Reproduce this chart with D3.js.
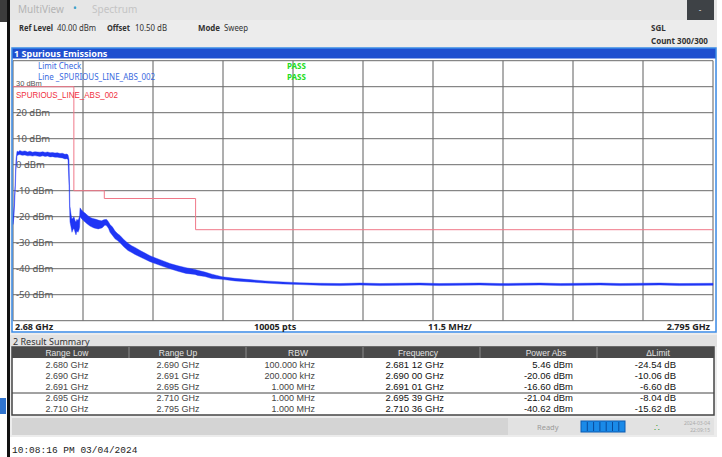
<!DOCTYPE html>
<html><head><meta charset="utf-8">
<script src="https://cdn.jsdelivr.net/npm/d3@7"></script>
<style>body{margin:0;background:#fff;}svg{display:block;font-family:"Noto Sans",sans-serif;}</style>
</head><body><svg id="c" width="722" height="457"></svg>
<script>
// ---- data ----
const traceFreq = [2.68000,2.68016,2.68033,2.68049,2.68066,2.68090,2.68112,2.68150,2.68197,2.68240,2.68279,2.68320,2.68361,2.68400,2.68444,2.68490,2.68526,2.68570,2.68608,2.68650,2.68690,2.68730,2.68772,2.68810,2.68854,2.68880,2.68904,2.68920,2.68936,2.68953,2.68969,2.68985,2.69002,2.69020,2.69035,2.69050,2.69068,2.69085,2.69095,2.69101,2.69120,2.69134,2.69160,2.69183,2.69210,2.69232,2.69265,2.69298,2.69330,2.69364,2.69400,2.69429,2.69460,2.69479,2.69511,2.69539,2.69570,2.69594,2.69635,2.69676,2.69717,2.69758,2.69820,2.69889,2.69950,2.70004,2.70090,2.70169,2.70251,2.70333,2.70448,2.70579,2.70711,2.70842,2.70990,2.71036,2.71154,2.71269,2.71434,2.71647,2.71894,2.72140,2.72436,2.72715,2.73050,2.73372,2.73700,2.74029,2.74350,2.74686,2.75000,2.75343,2.75670,2.76000,2.76330,2.76657,2.77000,2.77315,2.77650,2.77972,2.78300,2.78629,2.78950,2.79500];
const traceHigh = [-21.0,-16.0,-8.0,2.0,5.2,5.0,5.46,5.1,5.3,4.9,5.2,4.8,5.0,4.9,4.8,5.0,4.7,4.9,4.6,4.7,4.5,4.6,4.3,4.4,4.0,4.1,3.8,2.0,-16.0,-19.0,-21.0,-20.5,-20.06,-21.5,-22.0,-21.0,-21.5,-20.5,-19.5,-16.60,-17.2,-17.6,-18.2,-18.6,-19.2,-19.6,-20.2,-20.6,-20.8,-21.0,-21.3,-21.5,-21.6,-21.3,-21.1,-21.04,-22.0,-23.0,-24.0,-25.5,-26.5,-27.2,-28.8,-30.2,-31.2,-31.8,-33.0,-34.0,-35.0,-35.8,-36.8,-38.0,-38.9,-39.6,-40.3,-40.62,-41.3,-42.1,-43.1,-43.7,-44.2,-44.7,-45.1,-45.4,-45.6,-45.7,-45.5,-45.7,-45.6,-45.5,-45.7,-45.6,-45.5,-45.7,-45.6,-45.5,-45.7,-45.6,-45.5,-45.7,-45.6,-45.5,-45.7,-45.6];
const traceLow = [-23.0,-20.0,-12.0,-2.0,3.4,3.8,3.9,3.6,3.7,3.4,3.5,3.3,3.5,3.3,3.2,3.4,3.2,3.3,3.0,3.1,2.9,2.9,2.7,2.6,2.2,2.3,2.0,-8.0,-22.0,-24.0,-26.0,-25.0,-24.5,-26.0,-27.0,-25.5,-26.0,-25.0,-24.0,-20.0,-20.6,-21.0,-21.6,-22.0,-22.6,-23.0,-23.6,-24.0,-24.3,-24.5,-24.7,-24.5,-24.3,-24.0,-23.2,-23.5,-24.5,-26.0,-27.2,-28.5,-29.2,-30.0,-31.6,-33.0,-33.8,-34.5,-35.5,-36.4,-37.3,-38.0,-39.0,-40.0,-41.0,-41.8,-42.2,-42.6,-43.0,-43.8,-44.1,-44.7,-45.1,-45.5,-45.9,-46.1,-46.4,-46.5,-46.3,-46.5,-46.4,-46.3,-46.5,-46.4,-46.3,-46.5,-46.4,-46.3,-46.5,-46.4,-46.3,-46.5,-46.4,-46.3,-46.5,-46.4];

const limitStart = [2.680, 2.690, 2.691, 2.695, 2.710];
const limitStop  = [2.690, 2.691, 2.695, 2.710, 2.795];
const limitLevel = [30, -10, -10, -13, -25];

const yTickValues = [30, 20, 10, 0, -10, -20, -30, -40, -50];
const yTickLabels = ["30 dBm","20 dBm","10 dBm","0 dBm","-10 dBm","-20 dBm","-30 dBm","-40 dBm","-50 dBm"];

const rangeLow  = ["2.680 GHz","2.690 GHz","2.691 GHz","2.695 GHz","2.710 GHz"];
const rangeUp   = ["2.690 GHz","2.691 GHz","2.695 GHz","2.710 GHz","2.795 GHz"];
const rbw       = ["100.000 kHz","200.000 kHz","1.000 MHz","1.000 MHz","1.000 MHz"];
const peakFreq  = ["2.681 12 GHz","2.690 00 GHz","2.691 01 GHz","2.695 39 GHz","2.710 36 GHz"];
const powerAbs  = ["5.46 dBm","-20.06 dBm","-16.60 dBm","-21.04 dBm","-40.62 dBm"];
const deltaLim  = ["-24.54 dB","-10.06 dB","-6.60 dB","-8.04 dB","-15.62 dB"];
const tableHeaders = ["Range Low","Range Up","RBW","Frequency","Power Abs","\u0394Limit"];

// ---- drawing ----
const svg = d3.select("#c");
const fMin = 2.68, fMax = 2.795;
const x = d3.scaleLinear().domain([fMin, fMax]).range([13, 713]);
const y = d3.scaleLinear().domain([-60, 40]).range([320.7, 60.7]);
const SANS2 = "'Liberation Sans',Arial,sans-serif";

// backgrounds
svg.append("rect").attr("width",722).attr("height",457).attr("fill","#ffffff");
svg.append("rect").attr("x",10).attr("y",0).attr("width",707).attr("height",437).attr("fill","#ececec");
svg.append("rect").attr("x",10).attr("y",0).attr("width",707).attr("height",20).attr("fill","#e6e6e6");
svg.append("rect").attr("x",0).attr("y",0).attr("width",7).attr("height",22).attr("fill","#3c3c3c");
svg.append("rect").attr("x",0).attr("y",398).attr("width",6).attr("height",16).attr("fill","#2f74d0");
svg.append("rect").attr("x",7).attr("y",0).attr("width",3).attr("height",457).attr("fill","#111");
svg.append("rect").attr("x",687).attr("y",0).attr("width",27).attr("height",20).attr("fill","#3e4246");
svg.append("text").attr("x",700).attr("y",13).attr("fill","#ddd").attr("font-size",8).attr("text-anchor","middle").text("-");

// tabs
svg.append("text").attr("x",18).attr("y",13).attr("font-size",10).attr("fill","#b4b4b4").text("MultiView");
svg.append("text").attr("x",73).attr("y",12).attr("font-size",10).attr("fill","#3aa0c8").text("\u2022");
svg.append("text").attr("x",92).attr("y",13).attr("font-size",10).attr("fill","#c4c4c4").text("Spectrum");

// info row
const infoItems = [
  {t:"Ref Level", x:19, w:34, b:true}, {t:"40.00 dBm", x:57, w:39, b:false},
  {t:"Offset", x:107, w:23, b:true}, {t:"10.50 dB", x:135, w:32, b:false},
  {t:"Mode", x:198, w:22, b:true}, {t:"Sweep", x:224, w:24, b:false}
];
svg.append("g").selectAll("text").data(infoItems).join("text")
  .attr("x",d=>d.x).attr("y",31).attr("font-size",8.5).attr("fill","#333")
  .attr("font-weight",d=>d.b?"bold":"normal")
  .attr("textLength",d=>d.w).attr("lengthAdjust","spacingAndGlyphs").text(d=>d.t);
svg.append("text").attr("x",651).attr("y",31).attr("font-size",8).attr("font-weight","bold").attr("fill","#333").text("SGL");
svg.append("text").attr("x",651).attr("y",44).attr("font-size",8).attr("font-weight","bold").attr("fill","#333").text("Count 300/300");

// plot panel
svg.append("rect").attr("x",12).attr("y",48).attr("width",704).attr("height",285).attr("fill","#fff");
svg.append("rect").attr("x",12).attr("y",48).attr("width",704).attr("height",10.5).attr("fill","#1f4fcf");
svg.append("text").attr("x",14).attr("y",56.5).attr("font-size",9).attr("font-weight","bold").attr("fill","#fff").text("1 Spurious Emissions");

// grid
const vTicks = d3.range(11).map(i => fMin + i*(fMax-fMin)/10);
svg.append("g").selectAll("line").data(vTicks).join("line")
  .attr("x1",d=>x(d)).attr("x2",d=>x(d)).attr("y1",y(40)).attr("y2",y(-60))
  .attr("stroke","#5e5e5e").attr("stroke-width",1);
const hTicks = d3.range(-60, 41, 10);
svg.append("g").selectAll("line").data(hTicks).join("line")
  .attr("x1",x(fMin)).attr("x2",x(fMax)).attr("y1",d=>y(d)).attr("y2",d=>y(d))
  .attr("stroke","#6a6a6a").attr("stroke-width",1);

// y labels
svg.append("g").selectAll("text").data(yTickValues).join("text")
  .attr("x",16).attr("y",d=> d===30 ? y(d)-1 : y(d)+3.5)
  .attr("font-size",d=> d===30 ? 7.5 : 9.5)
  .attr("font-family",d=> d===30 ? SANS2 : null)
  .attr("fill","#555")
  .text((d,i)=>yTickLabels[i]);

// limit line
const limPts = [];
limitStart.forEach((s,i)=>{ limPts.push([s,limitLevel[i]]); limPts.push([limitStop[i],limitLevel[i]]); });
svg.append("path").attr("d", d3.line().x(d=>x(d[0])).y(d=>y(d[1]))(limPts))
  .attr("fill","none").attr("stroke","#f07888").attr("stroke-width",1);

// trace
const tr = traceFreq.map((f,i)=>({f, hi: traceHigh[i], lo: traceLow[i]}));
svg.append("path").attr("d", d3.area().x(d=>x(d.f)).y0(d=>y(d.lo)).y1(d=>y(d.hi))(tr))
  .attr("fill","#1f35f5").attr("stroke","#1f35f5").attr("stroke-width",0.4);

// legend texts
svg.append("text").attr("x",38).attr("y",69).attr("font-size",8).attr("fill","#3a6ae0").text("Limit Check");
svg.append("text").attr("x",38).attr("y",80).attr("font-size",8).attr("fill","#3a6ae0").text("Line _SPURIOUS_LINE_ABS_002");
svg.append("text").attr("x",287).attr("y",69).attr("font-size",8).attr("font-weight","bold").attr("fill","#22dd22").text("PASS");
svg.append("text").attr("x",287).attr("y",80).attr("font-size",8).attr("font-weight","bold").attr("fill","#22dd22").text("PASS");
svg.append("text").attr("x",16).attr("y",97.5).attr("font-size",9.5).attr("font-family",SANS2)
  .attr("textLength",102).attr("lengthAdjust","spacingAndGlyphs").attr("fill","#f03040").text("SPURIOUS_LINE_ABS_002");

// bottom label row & frame
svg.append("rect").attr("x",12).attr("y",48).attr("width",704).attr("height",284).attr("fill","none").attr("stroke","#3a8ae6").attr("stroke-width",1.5);
svg.append("text").attr("x",15).attr("y",330).attr("font-size",9).attr("font-weight","bold").attr("fill","#222").text("2.68 GHz");
svg.append("text").attr("x",254).attr("y",330).attr("font-size",9).attr("font-weight","bold").attr("fill","#222").text("10005 pts");
svg.append("text").attr("x",428).attr("y",330).attr("font-size",9).attr("font-weight","bold").attr("fill","#222").text("11.5 MHz/");
svg.append("text").attr("x",710).attr("y",330).attr("font-size",9).attr("font-weight","bold").attr("fill","#222").attr("text-anchor","end").text("2.795 GHz");

// result summary
svg.append("rect").attr("x",10).attr("y",335).attr("width",707).attr("height",12).attr("fill","#e2e2e2");
svg.append("text").attr("x",13).attr("y",345).attr("font-size",9).attr("fill","#333").text("2 Result Summary");
svg.append("rect").attr("x",12).attr("y",347).attr("width",702).attr("height",68).attr("fill","#fff").attr("stroke","#444").attr("stroke-width",1.5);
svg.append("rect").attr("x",12).attr("y",347).attr("width",702).attr("height",11).attr("fill","#4a4a4a");
const colBounds = [12,129,246,363,480,597,714];
svg.append("g").selectAll("line").data(colBounds.slice(1,-1)).join("line")
  .attr("x1",d=>d).attr("x2",d=>d).attr("y1",347).attr("y2",358).attr("stroke","#8a8a8a");
const headerX = [67,178,298,418,546,658];
svg.append("g").selectAll("text").data(tableHeaders).join("text")
  .attr("x",(d,i)=>headerX[i]).attr("y",356).attr("text-anchor","middle").attr("font-size",8.5)
  .attr("font-family",SANS2).attr("fill","#e4e4e4").text(d=>d);
svg.append("line").attr("x1",12).attr("x2",714).attr("y1",393).attr("y2",393).attr("stroke","#444");
const rowY = d3.range(5).map(i => 368 + i*11);
const cols = [
  {vals: rangeLow, x: 67, anchor:"middle", size:9, fill:"#444"},
  {vals: rangeUp, x: 178, anchor:"middle", size:9, fill:"#444"},
  {vals: rbw, x: 315, anchor:"end", size:9, fill:"#444"},
  {vals: peakFreq, x: 444, anchor:"end", size:9.5, fill:"#111"},
  {vals: powerAbs, x: 573, anchor:"end", size:9.5, fill:"#111"},
  {vals: deltaLim, x: 676, anchor:"end", size:9.5, fill:"#111"}
];
cols.forEach(c => {
  svg.append("g").selectAll("text").data(c.vals).join("text")
    .attr("x",c.x).attr("y",(d,i)=>rowY[i]).attr("text-anchor",c.anchor)
    .attr("font-family",SANS2).attr("font-size",c.size).attr("fill",c.fill).text(d=>d);
});

// status bar
svg.append("rect").attr("x",12).attr("y",418).attr("width",702).attr("height",17).attr("fill","#d4d4d4");
svg.append("rect").attr("x",508).attr("y",418).attr("width",206).attr("height",17).attr("fill","#e2e2e2");
svg.append("text").attr("x",537).attr("y",430).attr("font-size",7.5).attr("fill","#9a9a9a").text("Ready");
svg.append("rect").attr("x",581).attr("y",421).attr("width",44).attr("height",11).attr("fill","#1a8ae8").attr("stroke","#0a5ab0");
svg.append("g").selectAll("line").data(d3.range(1,7)).join("line")
  .attr("x1",d=>581+d*6.3).attr("x2",d=>581+d*6.3).attr("y1",422).attr("y2",431).attr("stroke","#0a4a9a");
svg.append("text").attr("x",657).attr("y",431).attr("font-size",9).attr("fill","#3a9a3a").attr("text-anchor","middle").text("\u2234");
svg.append("text").attr("x",710).attr("y",425).attr("font-size",5).attr("fill","#aaa").attr("text-anchor","end").text("2024-03-04");
svg.append("text").attr("x",710).attr("y",432).attr("font-size",5).attr("fill","#aaa").attr("text-anchor","end").text("22:09:15");

// timestamp
svg.append("text").attr("x",12).attr("y",453).attr("font-size",9.5).attr("font-family","'Liberation Mono','DejaVu Sans Mono',monospace").attr("fill","#222").text("10:08:16 PM  03/04/2024");
</script></body></html>
